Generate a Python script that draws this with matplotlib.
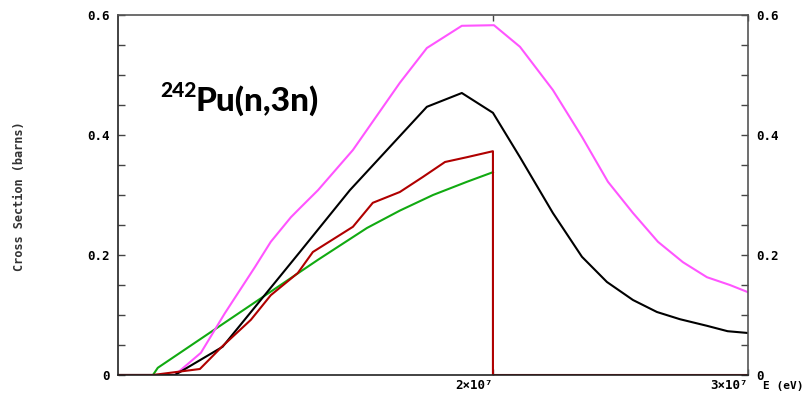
import matplotlib
matplotlib.use("Agg")
import matplotlib.pyplot as plt
from matplotlib.ticker import MultipleLocator, FixedLocator

# Energies in MeV, cross sections in barns
black_E = [5.3, 7.53, 9.4, 12.43, 14.39, 17.41, 18.78, 20.0, 21.06, 22.35, 23.49, 24.47, 25.49, 26.43, 27.33, 28.39, 29.2, 30.0]
black_y = [0.0, 0.0, 0.047, 0.205, 0.308, 0.447, 0.470, 0.437, 0.363, 0.270, 0.197, 0.155, 0.125, 0.105, 0.093, 0.082, 0.073, 0.070]

mag_E = [5.3, 7.53, 8.55, 9.49, 10.67, 11.29, 12.08, 12.43, 13.14, 14.51, 16.35, 17.41, 18.78, 20.04, 21.06, 22.35, 23.49, 24.51, 25.49, 26.47, 27.45, 28.39, 29.29, 30.0]
mag_y = [0.0, 0.0, 0.037, 0.103, 0.180, 0.222, 0.263, 0.278, 0.308, 0.375, 0.487, 0.545, 0.582, 0.583, 0.547, 0.475, 0.397, 0.322, 0.270, 0.222, 0.188, 0.163, 0.150, 0.138]

green_E = [5.3, 6.67, 6.86, 8.5, 10.0, 11.5, 13.14, 15.06, 16.35, 17.65, 18.98, 20.0]
green_y = [0.0, 0.0, 0.012, 0.059, 0.102, 0.145, 0.192, 0.245, 0.274, 0.300, 0.322, 0.338]

red_E = [5.3, 6.67, 7.22, 8.51, 9.37, 10.51, 11.29, 12.35, 12.94, 14.51, 15.29, 16.35, 17.25, 18.12, 18.98, 20.0, 20.0, 30.0]
red_y = [0.0, 0.0, 0.003, 0.010, 0.047, 0.092, 0.133, 0.170, 0.205, 0.247, 0.287, 0.305, 0.330, 0.355, 0.363, 0.373, 0.0, 0.0]

x_ticks = [2e7, 3e7]
x_ticklabels = ["2×10⁷", "3×10⁷"]
y_major = [0, 0.2, 0.4, 0.6]
y_labels = ["0", "0.2", "0.4", "0.6"]

W, H = 811, 398
fig = plt.figure(figsize=(W / 100, H / 100), dpi=100)
ax = fig.add_axes([118 / W, 1 - 375 / H, (748 - 118) / W, (375 - 15) / H])

mono = {"family": "DejaVu Sans Mono", "weight": "bold"}

def mev(v):
    return [e * 1e6 for e in v]

ax.plot(mev(green_E), green_y, color="#11aa11", lw=1.5)
ax.plot(mev(mag_E), mag_y, color="#ff55ff", lw=1.5)
ax.plot(mev(black_E), black_y, color="black", lw=1.5)
ax.plot(mev(red_E), red_y, color="#b00000", lw=1.5)

ax.set_xlim(5.3e6, 3e7)
ax.set_ylim(0, 0.6)

for s in ax.spines.values():
    s.set_color("#555555")
    s.set_linewidth(1.2)
ax.spines["left"].set_color("#222222")
ax.spines["bottom"].set_color("#222222")

ax.yaxis.set_major_locator(FixedLocator(y_major))
ax.set_yticklabels(y_labels, fontdict=mono, fontsize=9)
ax.yaxis.set_minor_locator(MultipleLocator(0.05))
ax.tick_params(axis="y", which="both", direction="in", left=True, right=True,
               labelleft=True, labelright=True, length=5, width=1, color="#444444", pad=6)
ax.set_xticks(x_ticks)
ax.set_xticklabels(x_ticklabels, fontdict=mono, fontsize=9)
ax.tick_params(axis="x", which="both", direction="in", top=True, bottom=True,
               length=4, width=1, color="#444444", pad=3)
for lab in ax.get_xticklabels():
    lab.set_horizontalalignment("right")
for lab in ax.get_yticklabels():
    lab.set_fontfamily("DejaVu Sans Mono")
    lab.set_fontweight("bold")

fig.text(783 / W, 1 - 386 / H, "E (eV)", ha="center", va="center",
         fontsize=8, family="DejaVu Sans Mono", weight="bold")
fig.text(20 / W, 1 - 196 / H, "Cross Section (barns)", rotation=90, ha="center", va="center",
         fontsize=8.6, family="DejaVu Sans Mono", weight="bold", color="#333333")

fig.text(160 / W, 1 - 97 / H, "242", ha="left", va="baseline", fontsize=15,
         family="Lato", weight="black")
fig.text(196 / W, 1 - 111 / H, "Pu(n,3n)", ha="left", va="baseline", fontsize=24,
         family="Lato", weight="black")

fig.savefig("out.png", dpi=100)
